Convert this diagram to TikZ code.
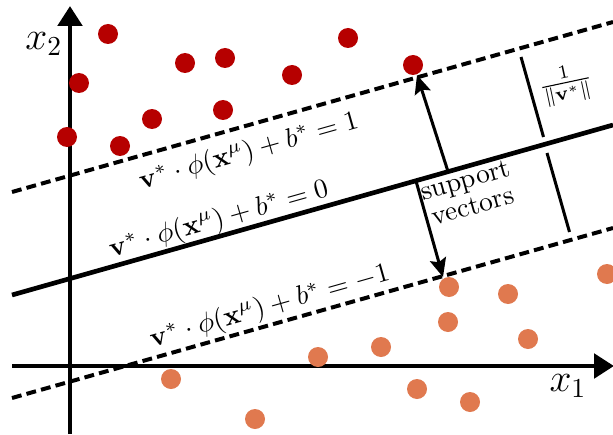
\documentclass[tikz,border=0pt]{standalone}
\usepackage{amsmath}
\usetikzlibrary{arrows.meta}
\definecolor{redpt}{RGB}{182,0,0}
\definecolor{orangept}{RGB}{224,121,79}
\tikzset{
  redd/.style={circle,fill=redpt,draw=none,minimum size=7.3pt,inner sep=0pt},
  orad/.style={circle,fill=orangept,draw=none,minimum size=7.3pt,inner sep=0pt},
  axisline/.style={line width=1.8pt,-{Triangle[length=7.3pt,width=8.8pt]}},
  hyper/.style={line width=1.7pt},
  margin/.style={line width=1.45pt,dash pattern=on 3.6pt off 1.9pt},
  marginseg/.style={line width=1.1pt},
  svarrow/.style={line width=1.1pt,-{Stealth[length=6.8pt,width=6pt,inset=1.2pt]}},
  eqlabel/.style={rotate=15.8,inner sep=1pt}
}
\begin{document}
\begin{tikzpicture}[x=0.365pt,y=-0.365pt]
\useasboundingbox (0,0) rectangle (613,434);
% axes
\coordinate (ybot) at (70,434);
\coordinate (ytop) at (70,6);
\coordinate (xleft) at (12,366);
\coordinate (xright) at (614,366);
\draw[axisline] (ybot) -- (ytop);
\draw[axisline] (xleft) -- (xright);
\node (x2) at (44,44) {\Large $x_2$};
\node (x1) at (568,386) {\Large $x_1$};
% hyperplanes
\coordinate (ua) at (12,192);
\coordinate (ub) at (613,22);
\coordinate (sa) at (12,295);
\coordinate (sb) at (613,125);
\coordinate (la) at (12,398);
\coordinate (lb) at (613,228);
\draw[margin] (ua) -- (ub);
\draw[hyper] (sa) -- (sb);
\draw[margin] (la) -- (lb);
% margin width segments
\coordinate (m1a) at (521,57);
\coordinate (m1b) at (543.5,137);
\coordinate (m2a) at (547,153);
\coordinate (m2b) at (569.5,232);
\draw[marginseg] (m1a) -- (m1b);
\draw[marginseg] (m2a) -- (m2b);
\node[rotate=12,inner sep=0pt] (frac) at (566,85) {$\frac{1}{\|\mathbf{v}^*\|}$};
% points
\node[redd] (r1) at (108,34) {};
\node[redd] (r2) at (79,83) {};
\node[redd] (r3) at (67,137) {};
\node[redd] (r4) at (120,146) {};
\node[redd] (r5) at (152,119) {};
\node[redd] (r6) at (185,63) {};
\node[redd] (r7) at (225,58) {};
\node[redd] (r8) at (223,110) {};
\node[redd] (r9) at (292,75) {};
\node[redd] (r10) at (348,38) {};
\node[redd] (r11) at (413,65) {};
\node[orad] (o1) at (449,287) {};
\node[orad] (o2) at (508,294) {};
\node[orad] (o3) at (607,274) {};
\node[orad] (o4) at (448,322) {};
\node[orad] (o5) at (528,339) {};
\node[orad] (o6) at (381,347) {};
\node[orad] (o7) at (318,357) {};
\node[orad] (o8) at (417,389) {};
\node[orad] (o9) at (470,402) {};
\node[orad] (o10) at (171,379) {};
\node[orad] (o11) at (255,419) {};
% support vector arrows
\coordinate (s1) at (448,171.5);
\coordinate (t1) at (417,75);
\coordinate (s2) at (416,181);
\coordinate (t2) at (443,277);
\draw[svarrow] (s1) -- (t1);
\draw[svarrow] (s2) -- (t2);
\node[rotate=15.8,align=center,inner sep=0pt] (sv) at (469,193) {support\\[-2pt]vectors};
% equation labels
\node[eqlabel] (eq1) at (249,152) {$\mathbf{v}^*\cdot\phi(\mathbf{x}^\mu)+b^*=1$};
\node[eqlabel] (eq0) at (219,220) {$\mathbf{v}^*\cdot\phi(\mathbf{x}^\mu)+b^*=0$};
\node[eqlabel] (eqm) at (270,307) {$\mathbf{v}^*\cdot\phi(\mathbf{x}^\mu)+b^*=-1$};
\end{tikzpicture}
\end{document}
